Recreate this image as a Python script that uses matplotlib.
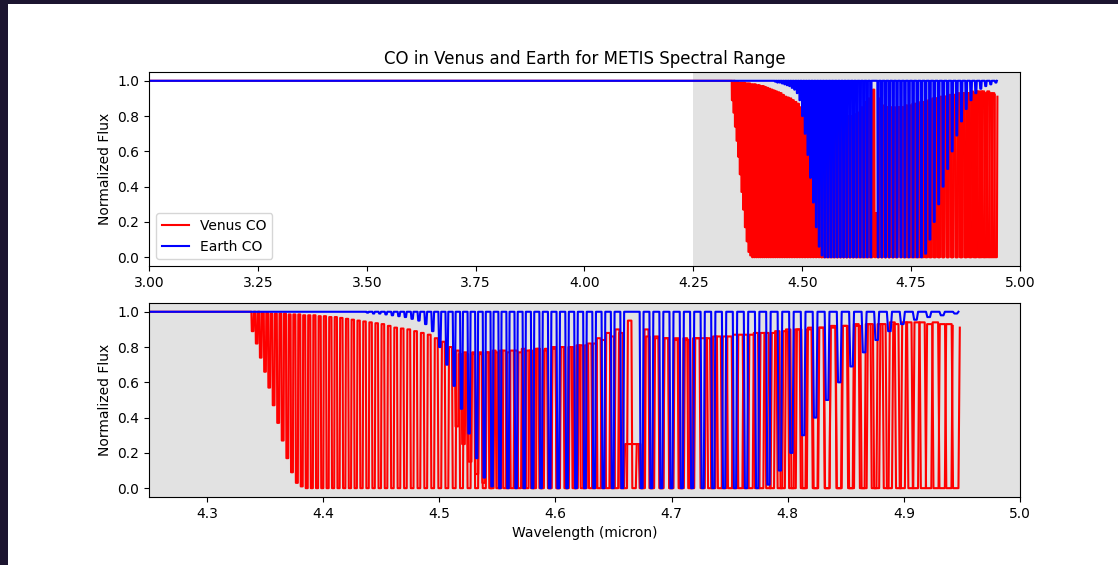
"""
金星与地球 CO 透射谱对比图（METIS 波段）
==========================================
上图：3.0-5.0 micron 全范围；下图：METIS 波段 4.25-5.0 micron 放大。
"""

import numpy as np
import matplotlib.pyplot as plt
from matplotlib.patches import Rectangle


# ==================== 数据 ====================

# CO 1-0 带谱线中心 (micron)：R 支 (R56 -> R0) + P 支 (P1 -> P28)
LINE_CENTERS = [
    4.3392, 4.3427, 4.3462, 4.3499, 4.3535, 4.3573, 4.3612, 4.3651, 4.3691, 4.3731,
    4.3773, 4.3815, 4.3858, 4.3902, 4.3947, 4.3992, 4.4038, 4.4085, 4.4132, 4.4181,
    4.4230, 4.4280, 4.4330, 4.4382, 4.4434, 4.4487, 4.4541, 4.4596, 4.4652, 4.4708,
    4.4766, 4.4824, 4.4883, 4.4943, 4.5004, 4.5065, 4.5128, 4.5191, 4.5256, 4.5321,
    4.5387, 4.5454, 4.5522, 4.5591, 4.5661, 4.5731, 4.5803, 4.5876, 4.5950, 4.6024,
    4.6100, 4.6177, 4.6254, 4.6333, 4.6413, 4.6493, 4.6575,
    4.6742, 4.6826, 4.6912, 4.6999, 4.7088, 4.7177, 4.7268, 4.7359, 4.7452, 4.7546,
    4.7641, 4.7737, 4.7834, 4.7933, 4.8032, 4.8133, 4.8236, 4.8339, 4.8444, 4.8550,
    4.8658, 4.8766, 4.8876, 4.8987, 4.9100, 4.9214, 4.9330, 4.9447,
]

# 金星：每条谱线的线心通量
VENUS_LINE_MIN = [
    0.89, 0.82, 0.74, 0.66, 0.57, 0.47, 0.37, 0.27, 0.17, 0.09,
    0.03, 0.01, 0.0, 0.0, 0.0, 0.0, 0.0, 0.0, 0.0, 0.0,
] + [0.0] * 65

# 金星：每条谱线右侧（与下一条线之间）的通量峰值
VENUS_PEAK = [
    1.0, 1.0, 0.995, 0.995, 0.99, 0.99, 0.99, 0.99, 0.985, 0.985,
    0.985, 0.98, 0.98, 0.98, 0.975, 0.975, 0.97, 0.97, 0.965, 0.96,
    0.955, 0.95, 0.945, 0.94, 0.935, 0.93, 0.92, 0.91, 0.905, 0.90,
    0.89, 0.88, 0.87, 0.85, 0.83, 0.80, 0.78, 0.77, 0.76, 0.76,
    0.77, 0.77, 0.78, 0.78, 0.77, 0.78, 0.79, 0.78, 0.79, 0.80,
    0.80, 0.81, 0.82, 0.85, 0.88, 0.90, 0.25,
    0.90, 0.86, 0.85, 0.85, 0.84, 0.85, 0.85, 0.86, 0.86, 0.87,
    0.87, 0.88, 0.88, 0.89, 0.90, 0.90, 0.91, 0.91, 0.92, 0.92,
    0.93, 0.93, 0.93, 0.94, 0.94, 0.94, 0.93, 0.91,
]

# 金星 CO 热带 (v=2-1) 谱线中心 (micron)：R 支 (R29 -> R0) + P 支 (P1 -> P22)
HOT_LINE_CENTERS = [
    4.5151, 4.5208, 4.5265, 4.5323, 4.5382, 4.5442, 4.5503, 4.5564, 4.5627, 4.5691,
    4.5755, 4.5820, 4.5887, 4.5954, 4.6022, 4.6091, 4.6161, 4.6232, 4.6303, 4.6376,
    4.6450, 4.6525, 4.6601, 4.6677, 4.6755, 4.6834, 4.6914, 4.6995, 4.7077, 4.7160,
    4.7331, 4.7416, 4.7503, 4.7592, 4.7681, 4.7772, 4.7864, 4.7957, 4.8051, 4.8146,
    4.8243, 4.8341, 4.8440, 4.8540, 4.8642, 4.8744, 4.8848, 4.8954, 4.9060, 4.9168,
    4.9277, 4.9388,
]

HOT_LINE_MIN = [0.35, 0.25, 0.15, 0.08, 0.03] + [0.0] * 47

HOT_PEAK = [
    0.76, 0.76, 0.77, 0.77, 0.77, 0.78, 0.78, 0.77, 0.78, 0.79,
    0.78, 0.79, 0.79, 0.80, 0.80, 0.80, 0.81, 0.81, 0.82, 0.84,
    0.86, 0.88, 0.95, 0.25, 0.86, 0.85, 0.85, 0.84, 0.85, 0.85,
    0.86, 0.86, 0.87, 0.87, 0.88, 0.88, 0.89, 0.90, 0.90, 0.91,
    0.91, 0.92, 0.92, 0.93, 0.93, 0.93, 0.94, 0.94, 0.94, 0.93,
    0.93, 0.92,
]
HOT_LEAD = 0.77               # 热带首条谱线左侧通量

# 地球：每条谱线的线心通量
EARTH_LINE_MIN = [
    1.0, 1.0, 1.0, 1.0, 1.0, 1.0, 1.0, 1.0, 1.0, 1.0,
    1.0, 1.0, 1.0, 1.0, 1.0, 1.0, 1.0, 1.0, 1.0, 1.0,
    1.0, 1.0, 1.0, 0.995, 0.99, 0.99, 0.985, 0.98, 0.975, 0.97,
    0.96, 0.95, 0.93, 0.89, 0.80, 0.70, 0.58, 0.45, 0.31, 0.17,
    0.06, 0.01, 0.0, 0.0, 0.0, 0.0, 0.0, 0.0, 0.0, 0.0,
    0.0, 0.0, 0.0, 0.0, 0.0, 0.0, 0.0,
    0.0, 0.0, 0.0, 0.0, 0.0, 0.0, 0.0, 0.0, 0.0, 0.0,
    0.0, 0.0, 0.02, 0.10, 0.20, 0.30, 0.40, 0.50, 0.60, 0.69,
    0.77, 0.84, 0.89, 0.93, 0.955, 0.97, 0.98, 0.99,
]

EARTH_CONTINUUM = 1.0         # 地球连续谱
SPEC_START = 3.0              # 光谱起点 (micron)


# ==================== 绘图参数 ====================

FIG_SIZE = (11.18, 5.65)
DPI = 100
METIS_RANGE = (4.25, 5.0)     # METIS 波段
SHADE_COLOR = "#e2e2e2"
BORDER_COLOR = "#1c1530"

# 谱线形状（以相邻谱线间距为单位）
VENUS_OUTER, VENUS_INNER = 0.30, 0.20
EARTH_OUTER, EARTH_INNER = 0.20, 0.10


# ==================== 函数 ====================

def build_spectrum(centers, minima, peaks, outer, inner, start=None, lead=1.0):
    """由谱线中心、线心通量和线间峰值拼出折线光谱。"""
    centers = np.asarray(centers)
    gaps = np.diff(centers)
    spacing = np.minimum(np.r_[gaps[0], gaps], np.r_[gaps, gaps[-1]])

    wl, flux = ([start], [lead]) if start is not None else ([], [])
    prev = lead
    for c, s, lo, hi in zip(centers, spacing, minima, peaks):
        wl += [c - outer * s, c - inner * s, c + inner * s, c + outer * s]
        flux += [prev, lo, lo, hi]
        prev = hi
    return np.array(wl), np.array(flux)


# ==================== 主程序 ====================

def main():
    assert len(LINE_CENTERS) == len(VENUS_LINE_MIN) == len(VENUS_PEAK) == len(EARTH_LINE_MIN)
    assert len(HOT_LINE_CENTERS) == len(HOT_LINE_MIN) == len(HOT_PEAK)

    venus_wl, venus_flux = build_spectrum(LINE_CENTERS, VENUS_LINE_MIN, VENUS_PEAK,
                                          VENUS_OUTER, VENUS_INNER, start=SPEC_START)
    hot_wl, hot_flux = build_spectrum(HOT_LINE_CENTERS, HOT_LINE_MIN, HOT_PEAK,
                                      VENUS_OUTER, VENUS_INNER, lead=HOT_LEAD)
    earth_wl, earth_flux = build_spectrum(LINE_CENTERS, EARTH_LINE_MIN,
                                          [EARTH_CONTINUUM] * len(LINE_CENTERS),
                                          EARTH_OUTER, EARTH_INNER, start=SPEC_START)

    fig = plt.figure(figsize=FIG_SIZE, dpi=DPI)
    ax1 = fig.add_axes([0.1333, 0.5292, 0.779, 0.3434])
    ax2 = fig.add_axes([0.1333, 0.1204, 0.779, 0.3434])

    for ax in (ax1, ax2):
        ax.axvspan(*METIS_RANGE, color=SHADE_COLOR, lw=0, zorder=0)
        ax.plot(venus_wl, venus_flux, "r-", label="Venus CO")
        ax.plot(hot_wl, hot_flux, "r-")
        ax.plot(earth_wl, earth_flux, "b-", label="Earth CO")
        ax.set_ylabel("Normalized Flux")

    ax1.set_xlim(3.0, 5.0)
    ax1.set_title("CO in Venus and Earth for METIS Spectral Range")
    ax1.legend(loc="lower left")

    ax2.set_xlim(*METIS_RANGE)
    ax2.set_xlabel("Wavelength (micron)")

    # 截图边框
    fig.add_artist(Rectangle((0, 0), 8 / 1118, 1, transform=fig.transFigure,
                             color=BORDER_COLOR, lw=0))
    fig.add_artist(Rectangle((0, 1 - 4 / 565), 1, 4 / 565, transform=fig.transFigure,
                             color=BORDER_COLOR, lw=0))

    fig.savefig("out.png", dpi=DPI)


if __name__ == "__main__":
    main()
